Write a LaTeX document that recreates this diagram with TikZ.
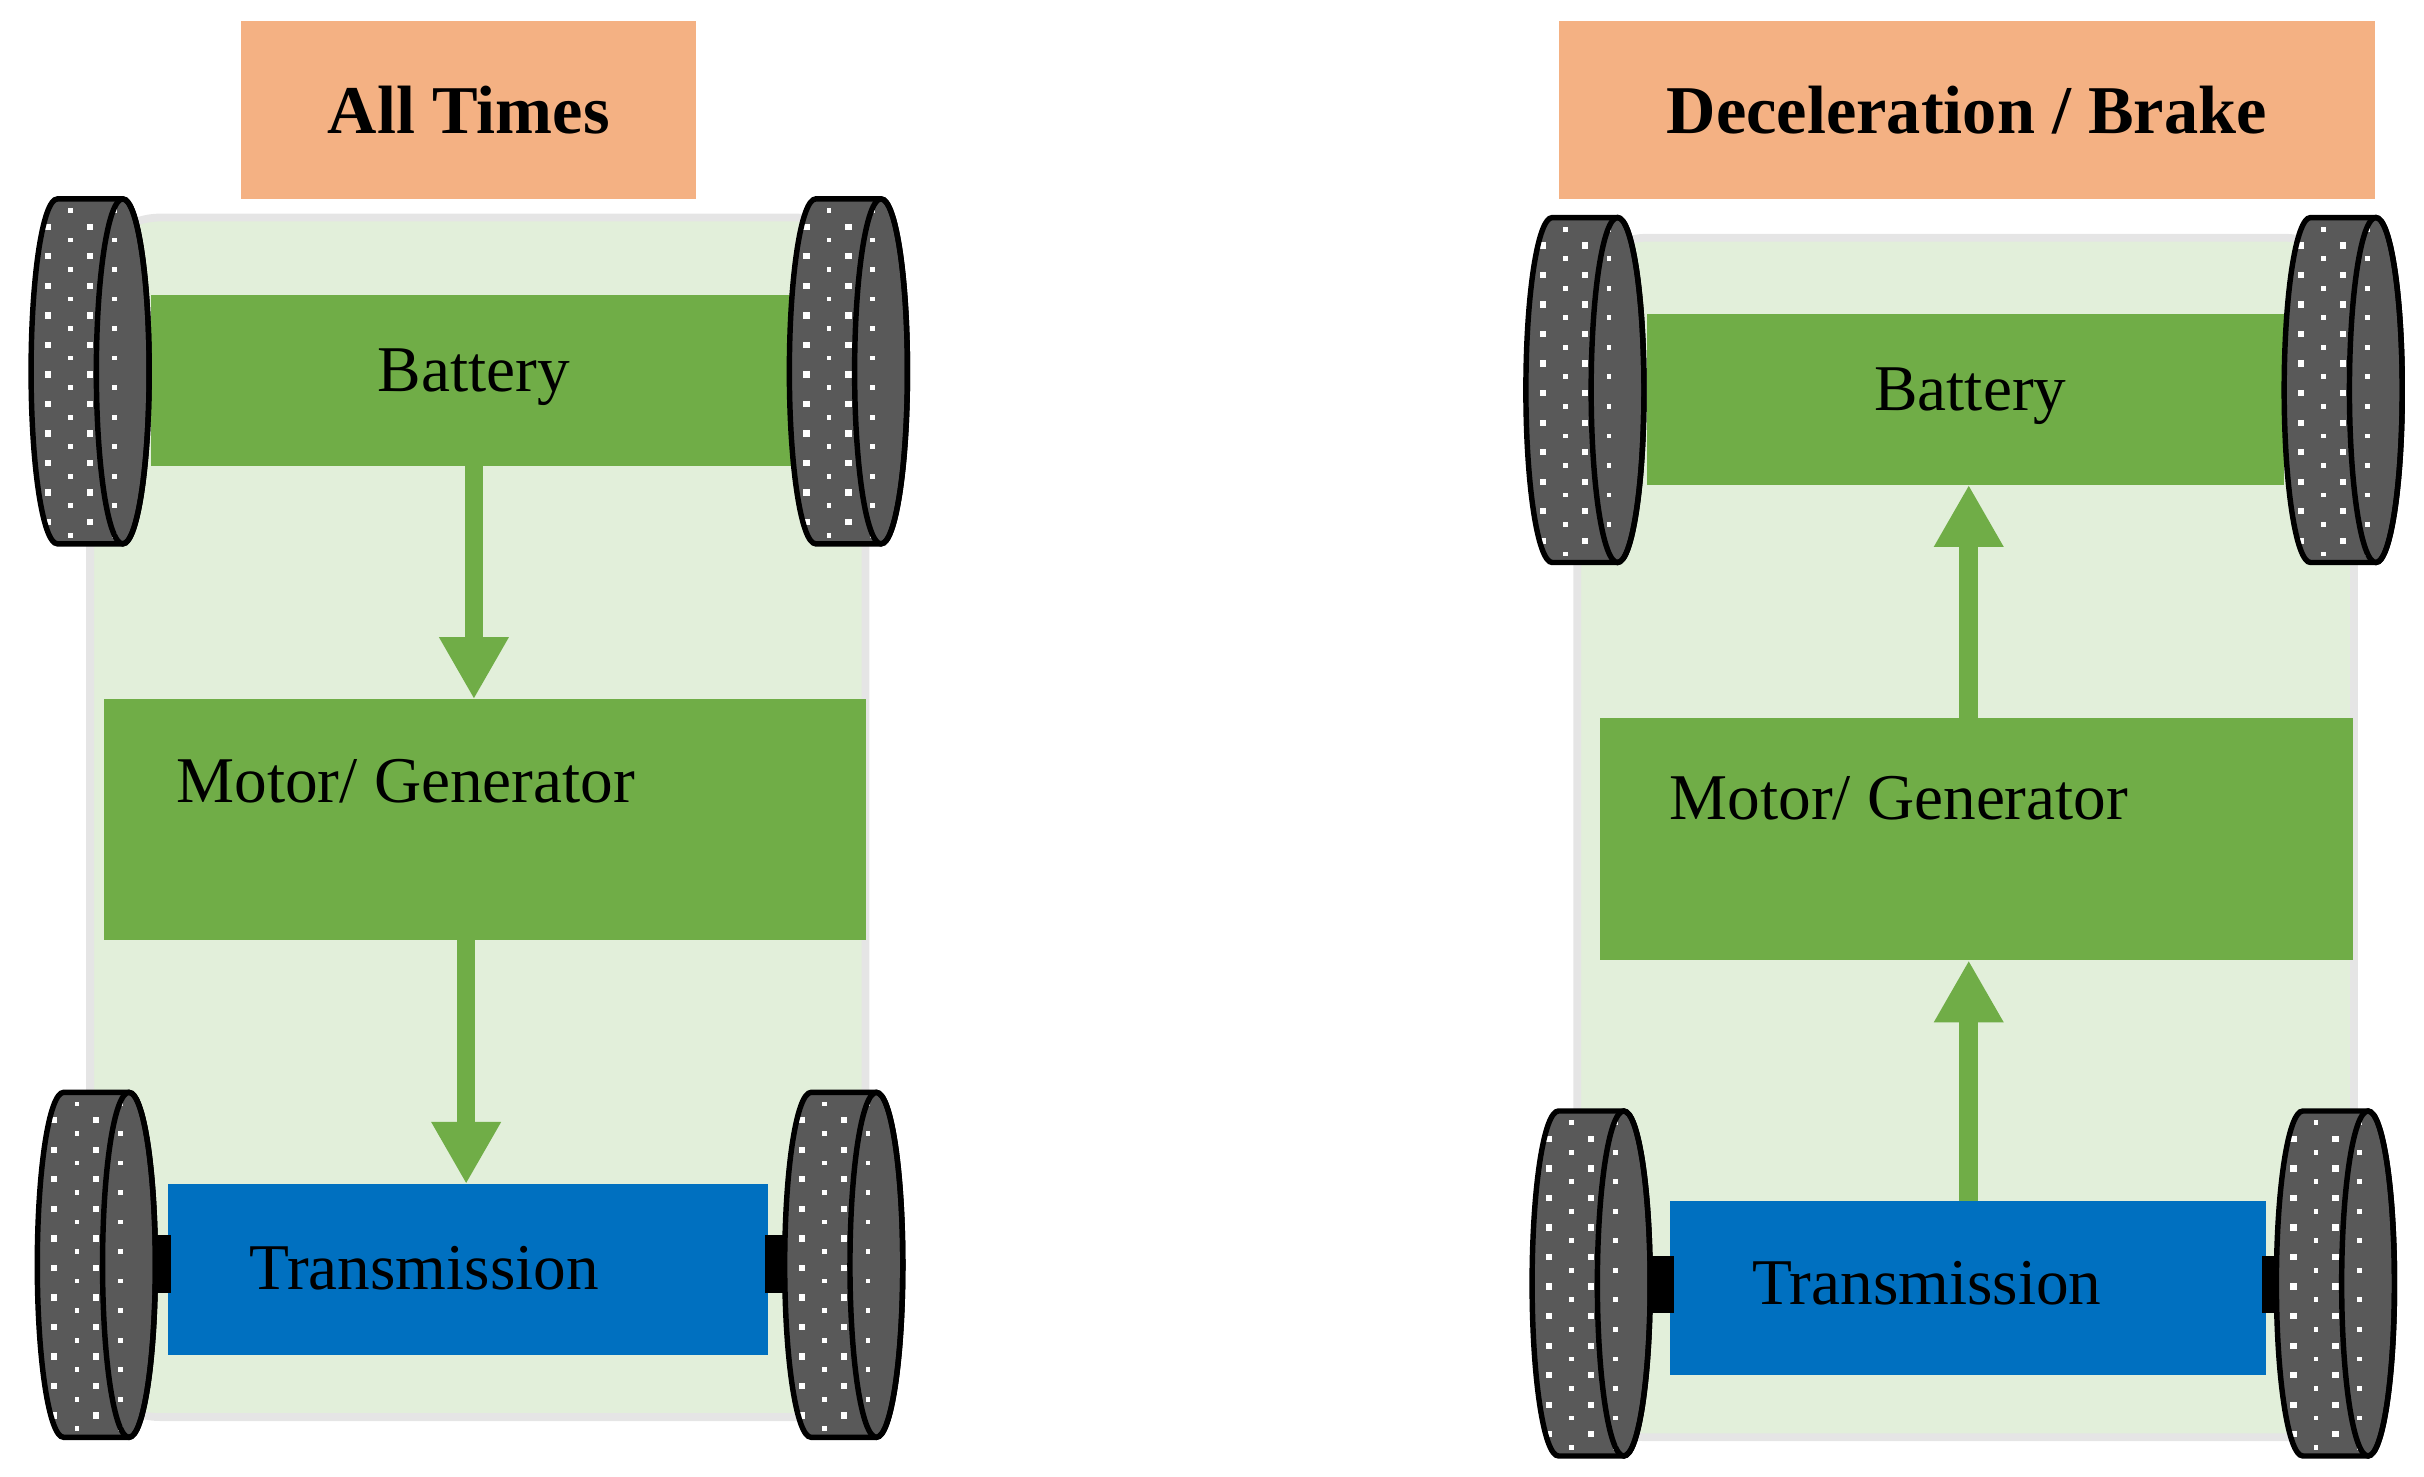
\documentclass[tikz,border=0pt]{standalone}
\usepackage{fontspec}
\setmainfont{Liberation Serif}
\usetikzlibrary{arrows.meta}
\definecolor{peach}{HTML}{F4B183}
\definecolor{gbox}{HTML}{70AD47}
\definecolor{gbody}{HTML}{E2EFDA}
\definecolor{bbox}{HTML}{0070C0}
\definecolor{wgray}{HTML}{595959}
\tikzset{
 title/.style={fill=peach,font=\fontsize{44}{48}\selectfont\bfseries,anchor=north west,inner sep=0},
 body/.style={fill=gbody,draw=black!10,line width=5,rounded corners=45},
 gb/.style={fill=gbox},
 lbl/.style={font=\fontsize{42}{46}\selectfont},
 flow/.style={draw=gbox,line width=12,-{Triangle[width=42,length=40]}},
 axle/.style={fill=black},
 pics/wheel/.style={code={
  \path[fill=wgray] (-21,-111) -- (21,-111) arc[start angle=-90,end angle=90,x radius=17,y radius=111] -- (-21,111) arc[start angle=90,end angle=270,x radius=17,y radius=111] -- cycle;
  \begin{scope}
  \clip (-21,-111) -- (21,-111) arc[start angle=-90,end angle=90,x radius=17,y radius=111] -- (-21,111) arc[start angle=90,end angle=270,x radius=17,y radius=111] -- cycle;
  \foreach \j in {-6,...,5}{
   \fill[white] (-29,\j*19) rectangle +(4,4);
   \fill[white] (-14,\j*19+9) rectangle +(3,3);
   \fill[white] (-2,\j*19) rectangle +(4,4);
   \fill[white] (14,\j*19+9) rectangle +(3,3);
  }
  \end{scope}
  \draw[line width=3.5] (-21,-111) -- (21,-111) arc[start angle=-90,end angle=90,x radius=17,y radius=111] -- (-21,111) arc[start angle=90,end angle=270,x radius=17,y radius=111] -- cycle;
  \draw[line width=3.5] (21,0) ellipse[x radius=17,y radius=111];
 }}
}
\begin{document}
\begin{tikzpicture}[x=1pt,y=-1pt]
\useasboundingbox (0,0) rectangle (1560,950);
% ---------- left ----------
\draw[body] (58,140) rectangle (557,912);
\fill[gb] (97,190) rectangle (510,300);
\node[lbl] (bat1) at (305,243) {Battery};
\coordinate (b1s) at (305,300);
\fill[gb] (67,450) rectangle (557,605);
\node[lbl,anchor=west] (mot1) at (110,503) {Motor/ Generator};
\coordinate (m1n) at (305,450);
\coordinate (m1s) at (300,605);
\fill[bbox] (108,762) rectangle (494,872);
\node[lbl] (tr1) at (273,816) {Transmission};
\coordinate (t1n) at (300,762);
\draw[flow] (b1s) -- (m1n);
\draw[flow] (m1s) -- (t1n);
\fill[axle] (96,795) rectangle (110,832);
\fill[axle] (492,795) rectangle (508,832);
\pic at (58,239) {wheel};
\pic at (546,239) {wheel};
\pic at (62,814) {wheel};
\pic at (543,814) {wheel};
\node[title,minimum width=293,minimum height=115] (t1) at (155,13) {All Times};
% ---------- right ----------
\draw[body] (1015,153) rectangle (1515,925);
\fill[gb] (1060,202) rectangle (1470,312);
\node[lbl] (bat2) at (1268,255) {Battery};
\coordinate (b2s) at (1267,312);
\fill[gb] (1030,462) rectangle (1514,618);
\node[lbl,anchor=west] (mot2) at (1071,514) {Motor/ Generator};
\coordinate (m2n) at (1267,462);
\coordinate (m2s) at (1267,618);
\fill[bbox] (1075,773) rectangle (1458,885);
\node[lbl] (tr2) at (1240,826) {Transmission};
\coordinate (t2n) at (1267,773);
\draw[flow] (m2n) -- (b2s);
\draw[flow] (t2n) -- (m2s);
\fill[axle] (1058,808) rectangle (1077,845);
\fill[axle] (1456,808) rectangle (1472,845);
\pic at (1020,251) {wheel};
\pic at (1508,251) {wheel};
\pic at (1024,826) {wheel};
\pic at (1503,826) {wheel};
\node[title,minimum width=525,minimum height=115] (t2) at (1003,13) {Deceleration / Brake};
\end{tikzpicture}
\end{document}
